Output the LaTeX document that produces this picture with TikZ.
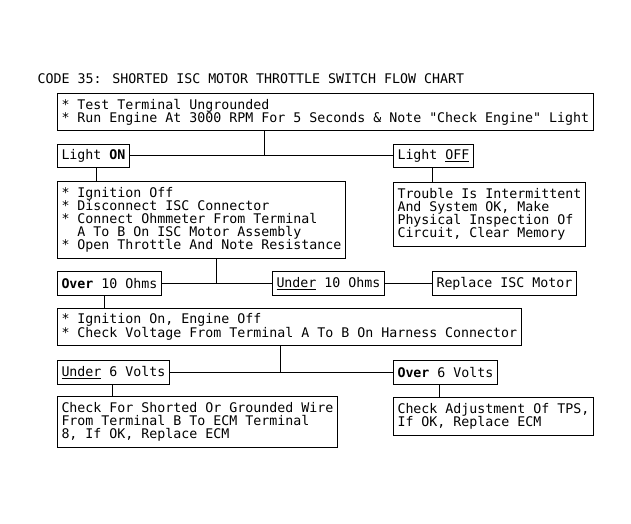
\documentclass[tikz,border=0pt]{standalone}
\usepackage{fontspec}
\newfontfamily\chartfont{DejaVu Sans Mono}
\tikzset{
    chart/.style={font=\chartfont\fontsize{9.96pt}{9.75pt}\selectfont},
    box/.style={chart, draw, line width=0.75pt, anchor=north west, align=left,
        inner xsep=3pt, inner ysep=1pt},
    link/.style={line width=0.75pt},
}
\begin{document}
\begin{tikzpicture}[x=0.75pt, y=-0.75pt]
    \useasboundingbox (0,0) rectangle (631,524);
    % title
    \node[chart, anchor=west] (title) at (33,79) {CODE 35: SHORTED ISC MOTOR THROTTLE SWITCH FLOW CHART};
    % boxes
    \node[box, minimum height=27.75pt] (test) at (57,93) {* Test Terminal Ungrounded\\* Run Engine At 3000 RPM For 5 Seconds \& Note "Check Engine" Light};
    \node[box, minimum height=17.25pt] (lon) at (57,144) {Light \textbf{ON}};
    \node[box, minimum height=17.25pt] (loff) at (393,144) {Light \underline{OFF}};
    \node[box, minimum height=57.75pt] (ignoff) at (57,181) {* Ignition Off\\* Disconnect ISC Connector\\* Connect Ohmmeter From Terminal\\\ \ A To B On ISC Motor Assembly\\* Open Throttle And Note Resistance};
    \node[box, minimum height=48pt] (trouble) at (393,182) {Trouble Is Intermittent\\And System OK, Make\\Physical Inspection Of\\Circuit, Clear Memory};
    \node[box, minimum height=18pt] (over10) at (57,271) {\textbf{Over} 10 Ohms};
    \node[box, minimum height=18pt] (under10) at (272,271) {\underline{Under} 10 Ohms};
    \node[box, minimum height=18pt] (replace) at (432,271) {Replace ISC Motor};
    \node[box, minimum height=27.75pt] (ignon) at (57,308) {* Ignition On, Engine Off\\* Check Voltage From Terminal A To B On Harness Connector};
    \node[box, minimum height=18pt] (under6) at (57,360) {\underline{Under} 6 Volts};
    \node[box, minimum height=18pt] (over6) at (393,360) {\textbf{Over} 6 Volts};
    \node[box, minimum height=38.25pt] (shorted) at (57,396) {Check For Shorted Or Grounded Wire\\From Terminal B To ECM Terminal\\8, If OK, Replace ECM};
    \node[box, minimum height=28.5pt] (tps) at (393,397) {Check Adjustment Of TPS,\\If OK, Replace ECM};
    % columns of the connectors
    \coordinate (c1) at (264,0);
    \coordinate (c2) at (96,0);
    \coordinate (c3) at (432,0);
    \coordinate (c4) at (216,0);
    \coordinate (c5) at (104,0);
    \coordinate (c6) at (280,0);
    \coordinate (c7) at (112,0);
    \coordinate (c8) at (439,0);
    % connectors
    \draw[link] (test.south -| c1) -- (lon.east -| c1);
    \draw[link] (ignoff.south -| c4) -- (over10.east -| c4);
    \draw[link] (ignon.south -| c6) -- (under6.east -| c6);
    \foreach \a/\b in {lon/loff, over10/under10, under10/replace, under6/over6}
        \draw[link] (\a.east) -- (\b.west);
    \foreach \a/\b/\c in {lon/ignoff/c2, loff/trouble/c3, over10/ignon/c5, under6/shorted/c7, over6/tps/c8}
        \draw[link] (\a.south -| \c) -- (\b.north -| \c);
\end{tikzpicture}
\end{document}
